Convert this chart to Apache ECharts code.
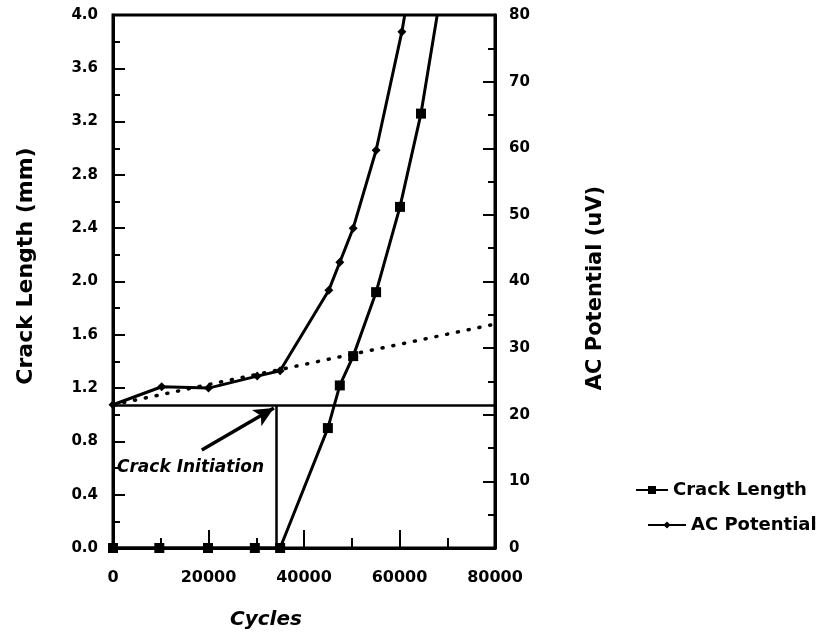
<!DOCTYPE html>
<html>
<head>
<meta charset="utf-8">
<script src="https://cdn.jsdelivr.net/npm/echarts@6/dist/echarts.min.js"></script>
<style>
  html, body { margin: 0; padding: 0; background: #fff; }
  #chart { width: 826px; height: 638px; }
</style>
</head>
<body>
<div id="chart"></div>
<script>
// crack length (mm) vs cycles
const crackCycles = [0, 9700, 19900, 29700, 35000, 45000, 47500, 50300, 55100, 60100, 64500, 67900]
const crackLength = [0, 0, 0, 0, 0, 0.9, 1.22, 1.44, 1.92, 2.56, 3.26, 4.0]

// AC potential (uV) vs cycles
const potCycles = [0, 10200, 20000, 30200, 35000, 45200, 47500, 50300, 55100, 60500, 61100]
const potValues = [21.5, 24.2, 24.0, 25.8, 26.6, 38.7, 42.9, 48.0, 59.7, 77.5, 80]

// baseline extrapolation (dotted) and initiation lines
const trendCycles = [0, 80000]
const trendValues = [21.5, 33.6]
const initLevel = 1.07
const initCycle = 34200

const font = 'DejaVu Sans, Verdana, sans-serif'
const lastOpen = (xs, ys) => xs.map((x, i) => {
  const p = { value: [x, ys[i]] }
  if (i === xs.length - 1) p.symbol = 'none'
  return p
})

const myChart = echarts.init(document.getElementById('chart'))
const options = {
  animation: false,
  textStyle: { fontFamily: font, color: '#000' },
  grid: {
    left: 113,
    right: 331,
    top: 15,
    bottom: 90,
    show: true,
    borderColor: '#000',
    borderWidth: 3
  },
  legend: [
    {
      data: ['Crack Length'],
      left: 630,
      top: 476,
      itemWidth: 32,
      itemHeight: 10,
      itemGap: 4,
      textStyle: { fontSize: 18, fontWeight: 'bold', fontFamily: font, color: '#000' }
    },
    {
      data: ['AC Potential'],
      left: 642,
      top: 511,
      itemWidth: 38,
      itemHeight: 9,
      textStyle: { fontSize: 18, fontWeight: 'bold', fontFamily: font, color: '#000' }
    }
  ],
  xAxis: {
    type: 'value',
    min: 0,
    max: 80000,
    interval: 20000,
    name: 'Cycles',
    nameLocation: 'middle',
    nameGap: 62,
    nameTextStyle: { fontSize: 20, fontWeight: 'bold', fontStyle: 'italic', padding: [0, 76, 0, 0] },
    axisLine: { lineStyle: { color: '#000', width: 3 } },
    axisTick: { inside: true, length: 18, lineStyle: { color: '#000', width: 2 } },
    minorTick: { show: true, splitNumber: 2, length: 10, lineStyle: { color: '#000', width: 2 } },
    axisLabel: { fontSize: 16, fontWeight: 'bold', margin: 22, color: '#000', formatter: v => String(v) },
    splitLine: { show: false }
  },
  yAxis: [
    {
      type: 'value',
      min: 0,
      max: 4,
      interval: 0.4,
      name: 'Crack Length (mm)',
      nameLocation: 'middle',
      nameGap: 76,
      nameTextStyle: { fontSize: 22, fontWeight: 'bold', padding: [0, 0, 0, 31] },
      axisLine: { show: true, lineStyle: { color: '#000', width: 3 } },
      axisTick: { inside: true, length: 12, lineStyle: { color: '#000', width: 2 } },
      minorTick: { show: true, splitNumber: 2, length: 7, lineStyle: { color: '#000', width: 2 } },
      axisLabel: { fontSize: 15, fontWeight: 'bold', margin: 15, color: '#000', formatter: v => v.toFixed(1) },
      splitLine: { show: false }
    },
    {
      type: 'value',
      min: 0,
      max: 80,
      interval: 10,
      position: 'right',
      name: 'AC Potential (uV)',
      nameLocation: 'middle',
      nameGap: 90,
      nameRotate: 90,
      nameTextStyle: { fontSize: 21, fontWeight: 'bold', padding: [0, 13, 0, 0] },
      axisLine: { show: true, lineStyle: { color: '#000', width: 3 } },
      axisTick: { inside: true, length: 12, lineStyle: { color: '#000', width: 2 } },
      minorTick: { show: true, splitNumber: 2, length: 7, lineStyle: { color: '#000', width: 2 } },
      axisLabel: { fontSize: 15, fontWeight: 'bold', margin: 14, color: '#000' },
      splitLine: { show: false }
    }
  ],
  graphic: [
    {
      type: 'text',
      left: 117,
      top: 459,
      style: {
        text: 'Crack Initiation',
        font: 'italic bold 17px ' + font,
        fill: '#000'
      }
    }
  ],
  series: [
    {
      name: 'Crack Length',
      type: 'line',
      yAxisIndex: 0,
      data: lastOpen(crackCycles, crackLength),
      symbol: 'rect',
      symbolSize: 10,
      color: '#000',
      lineStyle: { color: '#000', width: 3 },
      itemStyle: { color: '#000' },
      z: 5
    },
    {
      name: 'AC Potential',
      type: 'line',
      yAxisIndex: 1,
      data: lastOpen(potCycles, potValues),
      symbol: 'diamond',
      symbolSize: 9,
      color: '#000',
      lineStyle: { color: '#000', width: 3 },
      itemStyle: { color: '#000' },
      z: 5
    },
    {
      name: 'trend',
      type: 'line',
      yAxisIndex: 1,
      data: trendCycles.map((x, i) => [x, trendValues[i]]),
      symbol: 'none',
      lineStyle: { color: '#000', width: 3.5, type: [1, 10], cap: 'round' }
    },
    {
      name: 'initiation',
      type: 'line',
      yAxisIndex: 0,
      data: [[0, initLevel], [80000, initLevel]],
      symbol: 'none',
      lineStyle: { color: '#000', width: 2.5 },
      markLine: {
        silent: true,
        animation: false,
        label: { show: false },
        data: [
          [
            { coord: [initCycle, 0], symbol: 'none' },
            { coord: [initCycle, initLevel], symbol: 'none' }
          ],
          [
            { coord: [18600, 0.735], symbol: 'none', lineStyle: { width: 3.5 } },
            { coord: [33700, 1.05], symbol: 'arrow', symbolSize: [14, 20] }
          ]
        ],
        lineStyle: { color: '#000', width: 2.5, type: 'solid' }
      }
    }
  ]
}
myChart.setOption(options)
window.addEventListener('resize', () => myChart.resize())
</script>
</body>
</html>
